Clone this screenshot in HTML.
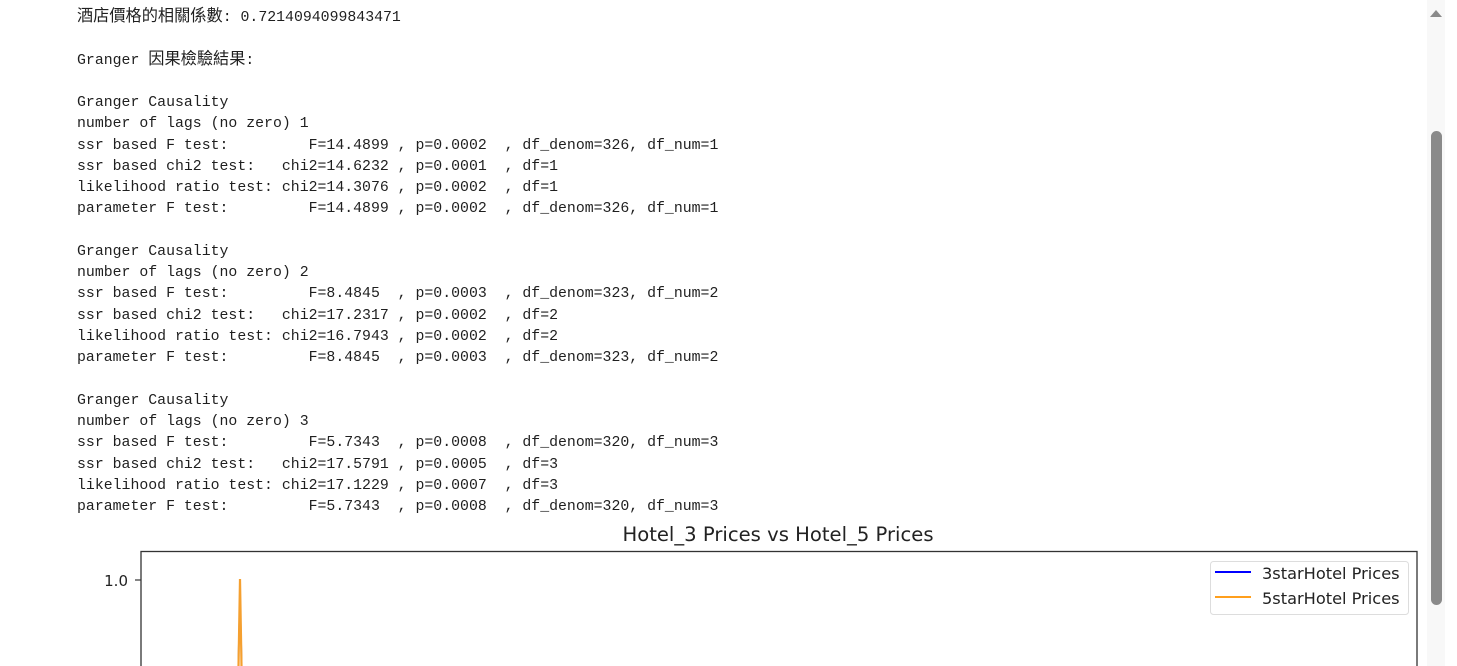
<!DOCTYPE html>
<html><head><meta charset="utf-8"><style>
body{margin:0;width:1457px;height:666px;background:#fff;overflow:hidden;position:relative}
pre{position:absolute;left:77px;top:8px;margin:0;font-family:"Liberation Mono","Noto Sans CJK TC",monospace;font-size:14.85px;line-height:21.26px;color:#1f1f1f}
.c{font-size:16.2px;line-height:0}
.sb{position:absolute;left:1427px;top:0;width:18px;height:666px;background:#f8f8f8}
.th{position:absolute;left:1431px;top:131px;width:11px;height:474px;background:#8a8a8a;border-radius:6px}
.ar{position:absolute;left:1430px;top:10px;width:0;height:0;border-left:6px solid transparent;border-right:6px solid transparent;border-bottom:7px solid #8a8a8a}
</style></head><body>
<pre><span class="c">酒店價格的相關係數</span>: 0.7214094099843471

Granger <span class="c">因果檢驗結果</span>:

Granger Causality
number of lags (no zero) 1
ssr based F test:         F=14.4899 , p=0.0002  , df_denom=326, df_num=1
ssr based chi2 test:   chi2=14.6232 , p=0.0001  , df=1
likelihood ratio test: chi2=14.3076 , p=0.0002  , df=1
parameter F test:         F=14.4899 , p=0.0002  , df_denom=326, df_num=1

Granger Causality
number of lags (no zero) 2
ssr based F test:         F=8.4845  , p=0.0003  , df_denom=323, df_num=2
ssr based chi2 test:   chi2=17.2317 , p=0.0002  , df=2
likelihood ratio test: chi2=16.7943 , p=0.0002  , df=2
parameter F test:         F=8.4845  , p=0.0003  , df_denom=323, df_num=2

Granger Causality
number of lags (no zero) 3
ssr based F test:         F=5.7343  , p=0.0008  , df_denom=320, df_num=3
ssr based chi2 test:   chi2=17.5791 , p=0.0005  , df=3
likelihood ratio test: chi2=17.1229 , p=0.0007  , df=3
parameter F test:         F=5.7343  , p=0.0008  , df_denom=320, df_num=3</pre>
<svg style="position:absolute;left:0;top:0" width="1457" height="666">
<text x="778" y="541" text-anchor="middle" font-family="DejaVu Sans,sans-serif" font-size="19.6" fill="#222">Hotel_3 Prices vs Hotel_5 Prices</text>
<rect x="141" y="551.5" width="1276" height="130" fill="none" stroke="#333" stroke-width="1.3"/>
<line x1="135" y1="580" x2="141" y2="580" stroke="#333" stroke-width="1.2"/>
<text x="128" y="586" text-anchor="end" font-family="DejaVu Sans,sans-serif" font-size="15" fill="#222">1.0</text>
<path d="M238 666 L240 579 L242 666" fill="none" stroke="#6a5ea0" stroke-width="1"/>
<path d="M238.5 666 L240 579 L241.5 666" fill="none" stroke="#f5a030" stroke-width="2.2"/>
<rect x="1210.5" y="561.5" width="198" height="53" rx="3" fill="#fff" stroke="#ddd"/>
<line x1="1215" y1="572" x2="1251" y2="572" stroke="#0000ff" stroke-width="2"/>
<line x1="1215" y1="597" x2="1251" y2="597" stroke="#ff9f1c" stroke-width="2"/>
<text x="1262" y="579" font-family="DejaVu Sans,sans-serif" font-size="16.2" fill="#222">3starHotel Prices</text>
<text x="1262" y="604" font-family="DejaVu Sans,sans-serif" font-size="16.2" fill="#222">5starHotel Prices</text>
</svg>
<div class="sb"></div><div class="ar"></div><div class="th"></div>
</body></html>
